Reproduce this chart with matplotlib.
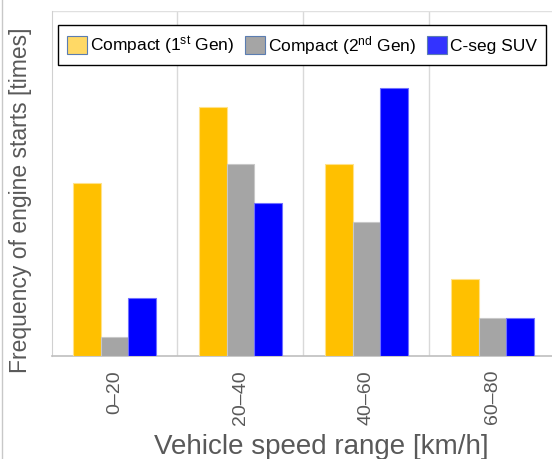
import matplotlib
matplotlib.use("Agg")
import matplotlib.pyplot as plt
import numpy as np
from matplotlib.patches import Patch
from matplotlib.lines import Line2D

plt.rcParams['font.family'] = ['Liberation Sans', 'DejaVu Sans']
plt.rcParams['mathtext.fontset'] = 'custom'
plt.rcParams['mathtext.rm'] = 'Liberation Sans'
plt.rcParams['mathtext.it'] = 'Liberation Sans'

# data
speed_ranges = ['0\u201320', '20\u201340', '40\u201360', '60\u201380']
compact_1st = [9, 13, 10, 4]
compact_2nd = [1, 10, 7, 2]
cseg_suv = [3, 8, 14, 2]
series_names = ['Compact (1$^{\\mathrm{st}}$ Gen)', 'Compact (2$^{\\mathrm{nd}}$ Gen)', 'C-seg SUV']

fig = plt.figure(figsize=(5.52, 4.59), dpi=100)
ax = fig.add_axes([0.0933, 0.2244, 0.913, 0.752])

x = np.arange(len(speed_ranges))
w = 0.22
ax.bar(x - w, compact_1st, w, color='#FFC000', edgecolor='#FFE28A', linewidth=0.8, zorder=3)
ax.bar(x, compact_2nd, w, color='#A5A5A5', edgecolor='#C8C8C8', linewidth=0.8, zorder=3)
ax.bar(x + w, cseg_suv, w, color='#0000FF', edgecolor='#7070FF', linewidth=0.8, zorder=3)

ax.set_xlim(-0.5, len(speed_ranges) - 0.5)
ax.set_ylim(0, 18)
ax.set_yticks([])
ax.set_xticks(x)
ax.set_xticklabels(speed_ranges, rotation=90, fontsize=14, color='#595959')
ax.tick_params(axis='x', length=0, pad=10)

for b in np.arange(0.5, len(speed_ranges) - 0.5, 1):
    ax.axvline(b, color='#D9D9D9', lw=1, zorder=1)
ax.axhline(18, color='#E0E0E0', lw=1, zorder=1)

for s in ['top', 'right']:
    ax.spines[s].set_visible(False)
ax.spines['left'].set_color('#D0D0D0')
ax.spines['bottom'].set_color('#BFBFBF')
ax.spines['bottom'].set_linewidth(1.2)

ax.set_xlabel('Vehicle speed range [km/h]', fontsize=20, color='#595959')
ax.xaxis.set_label_coords(0.535, -0.227)
ax.set_ylabel('Frequency of engine starts [times]', fontsize=16.5, color='#595959')
ax.yaxis.set_label_coords(-0.039, 0.452)

handles = [Patch(facecolor='#FFD966', edgecolor='#5B7DB1', lw=0.8),
           Patch(facecolor='#A5A5A5', edgecolor='#5B7DB1', lw=0.8),
           Patch(facecolor='#3333FF', edgecolor='#5B7DB1', lw=0.8)]
leg = fig.legend(handles, series_names, ncol=3, loc='upper left',
                 bbox_to_anchor=(58 / 552, 1 - 25 / 459), fontsize=12.5,
                 fancybox=False, edgecolor='black', framealpha=1,
                 handlelength=1.15, handleheight=1.2, handletextpad=0.2,
                 columnspacing=0.6, borderpad=0.5, borderaxespad=0)
leg.get_frame().set_linewidth(1.0)

fig.add_artist(Line2D([0.004, 0.004], [0, 1], transform=fig.transFigure, color='#C8C8C8', lw=1))

fig.savefig('out.png', dpi=100)
